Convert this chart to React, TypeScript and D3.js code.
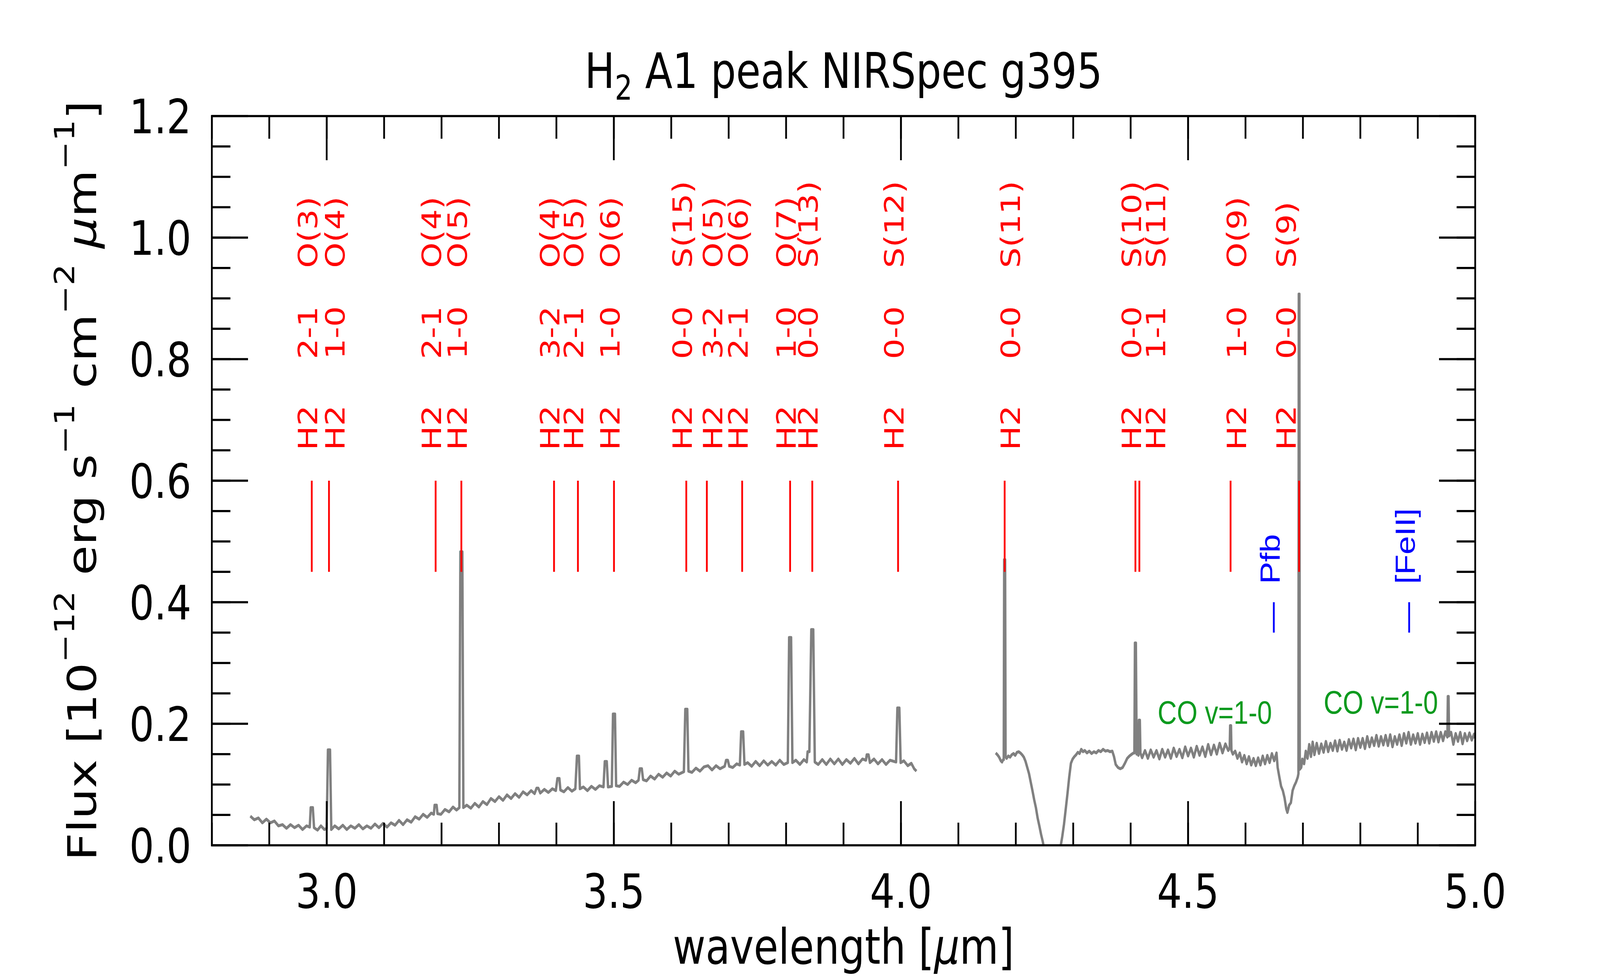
import * as d3 from 'd3'

// spectrum, short-wavelength detector [wavelength um, flux 1e-12 erg/s/cm2/um]
const SPEC_SHORT: [number, number][] = [
  [2.867, 0.048], [2.874, 0.042], [2.881, 0.045], [2.888, 0.037], [2.895, 0.043], [2.902, 0.037],
  [2.909, 0.040], [2.916, 0.032], [2.923, 0.034], [2.930, 0.028], [2.937, 0.034], [2.944, 0.029],
  [2.951, 0.033], [2.958, 0.026], [2.965, 0.032], [2.9705, 0.030], [2.9722, 0.062], [2.9758, 0.062],
  [2.978, 0.029], [2.984, 0.025], [2.990, 0.032], [2.996, 0.026], [3.000, 0.028], [3.0022, 0.157],
  [3.0058, 0.157], [3.008, 0.026], [3.014, 0.032], [3.021, 0.027], [3.028, 0.033], [3.035, 0.026],
  [3.042, 0.032], [3.049, 0.028], [3.056, 0.034], [3.063, 0.027], [3.070, 0.032], [3.077, 0.028],
  [3.084, 0.035], [3.091, 0.029], [3.098, 0.036], [3.105, 0.030], [3.112, 0.037], [3.119, 0.033],
  [3.126, 0.041], [3.133, 0.034], [3.140, 0.042], [3.147, 0.038], [3.154, 0.047], [3.161, 0.043],
  [3.168, 0.051], [3.175, 0.046], [3.182, 0.053], [3.1865, 0.051], [3.1880, 0.066], [3.1914, 0.066],
  [3.193, 0.052], [3.199, 0.051], [3.206, 0.059], [3.213, 0.055], [3.220, 0.063], [3.226, 0.058],
  [3.231, 0.062], [3.2328, 0.483], [3.2362, 0.483], [3.238, 0.062], [3.244, 0.066], [3.251, 0.061],
  [3.258, 0.069], [3.265, 0.063], [3.272, 0.072], [3.279, 0.067], [3.286, 0.077], [3.293, 0.072],
  [3.300, 0.080], [3.307, 0.074], [3.314, 0.083], [3.321, 0.077], [3.328, 0.085], [3.335, 0.079],
  [3.342, 0.088], [3.349, 0.083], [3.356, 0.090], [3.362, 0.085], [3.3655, 0.094], [3.3685, 0.094],
  [3.372, 0.086], [3.379, 0.092], [3.386, 0.087], [3.393, 0.093], [3.399, 0.090], [3.4018, 0.110],
  [3.4052, 0.110], [3.407, 0.091], [3.413, 0.088], [3.420, 0.095], [3.427, 0.089], [3.433, 0.093],
  [3.4358, 0.147], [3.4392, 0.147], [3.441, 0.093], [3.447, 0.096], [3.454, 0.090], [3.461, 0.097],
  [3.468, 0.092], [3.475, 0.098], [3.482, 0.096], [3.4843, 0.138], [3.4877, 0.138], [3.490, 0.096],
  [3.4965, 0.097], [3.4986, 0.216], [3.5020, 0.216], [3.504, 0.098], [3.510, 0.097], [3.517, 0.104],
  [3.524, 0.100], [3.531, 0.107], [3.538, 0.103], [3.543, 0.107], [3.5453, 0.126], [3.5487, 0.126],
  [3.551, 0.108], [3.557, 0.106], [3.564, 0.114], [3.571, 0.109], [3.578, 0.117], [3.585, 0.112],
  [3.592, 0.119], [3.599, 0.114], [3.606, 0.122], [3.613, 0.117], [3.622, 0.121], [3.6245, 0.224],
  [3.6279, 0.224], [3.630, 0.122], [3.636, 0.120], [3.643, 0.127], [3.650, 0.122], [3.657, 0.129],
  [3.664, 0.131], [3.671, 0.124], [3.678, 0.131], [3.685, 0.126], [3.693, 0.130], [3.6955, 0.140],
  [3.6985, 0.140], [3.701, 0.130], [3.707, 0.128], [3.714, 0.134], [3.7195, 0.132], [3.7218, 0.187],
  [3.7252, 0.187], [3.7275, 0.133], [3.733, 0.136], [3.740, 0.130], [3.747, 0.138], [3.754, 0.131],
  [3.761, 0.139], [3.768, 0.132], [3.775, 0.138], [3.782, 0.132], [3.789, 0.140], [3.796, 0.133],
  [3.803, 0.136], [3.8053, 0.342], [3.8087, 0.342], [3.811, 0.136], [3.817, 0.140], [3.824, 0.133],
  [3.831, 0.141], [3.836, 0.137], [3.8375, 0.154], [3.8405, 0.154], [3.8439, 0.355], [3.8473, 0.355],
  [3.850, 0.137], [3.856, 0.133], [3.863, 0.141], [3.870, 0.133], [3.877, 0.142], [3.884, 0.134],
  [3.891, 0.142], [3.898, 0.133], [3.905, 0.141], [3.912, 0.135], [3.919, 0.143], [3.926, 0.134],
  [3.933, 0.142], [3.939, 0.140], [3.9405, 0.149], [3.9435, 0.149], [3.946, 0.136], [3.953, 0.142],
  [3.960, 0.134], [3.967, 0.141], [3.974, 0.133], [3.981, 0.140], [3.9915, 0.137], [3.9938, 0.226],
  [3.9972, 0.226], [3.9995, 0.136], [4.005, 0.139], [4.012, 0.131], [4.018, 0.135], [4.023, 0.126],
  [4.027, 0.122],
]

// spectrum, long-wavelength detector
const SPEC_LONG: [number, number][] = [
  [4.165, 0.152], [4.168, 0.149], [4.171, 0.145], [4.174, 0.139], [4.176, 0.137], [4.178, 0.141],
  [4.1790, 0.141], [4.1798, 0.470], [4.1814, 0.470], [4.1822, 0.146], [4.184, 0.143], [4.187, 0.147],
  [4.190, 0.145], [4.193, 0.149], [4.196, 0.151], [4.199, 0.148], [4.202, 0.153], [4.205, 0.154],
  [4.208, 0.152], [4.211, 0.149], [4.214, 0.145], [4.217, 0.138], [4.220, 0.128], [4.223, 0.118],
  [4.226, 0.104], [4.229, 0.090], [4.232, 0.075], [4.235, 0.062], [4.238, 0.045], [4.241, 0.032],
  [4.244, 0.018], [4.247, 0.006], [4.252, -0.020], [4.262, -0.040], [4.272, -0.020], [4.278, -0.002],
  [4.281, 0.015], [4.284, 0.035], [4.287, 0.060], [4.290, 0.085], [4.293, 0.112], [4.296, 0.135],
  [4.299, 0.142], [4.302, 0.146], [4.305, 0.149], [4.308, 0.153], [4.311, 0.151], [4.314, 0.158],
  [4.317, 0.154], [4.320, 0.156], [4.324, 0.152], [4.328, 0.155], [4.332, 0.151], [4.336, 0.154],
  [4.340, 0.152], [4.344, 0.156], [4.348, 0.154], [4.352, 0.158], [4.356, 0.155], [4.360, 0.156],
  [4.364, 0.154], [4.368, 0.155], [4.371, 0.146], [4.374, 0.133], [4.378, 0.128], [4.382, 0.126],
  [4.386, 0.128], [4.390, 0.135], [4.394, 0.143], [4.398, 0.147], [4.402, 0.150], [4.405, 0.152],
  [4.4065, 0.152], [4.4075, 0.333], [4.4091, 0.333], [4.4105, 0.150], [4.412, 0.152], [4.4135, 0.148],
  [4.4144, 0.206], [4.4160, 0.206], [4.4170, 0.152], [4.420, 0.144], [4.425, 0.156], [4.430, 0.143],
  [4.435, 0.157], [4.440, 0.145], [4.445, 0.156], [4.450, 0.142], [4.455, 0.158], [4.460, 0.145],
  [4.465, 0.157], [4.470, 0.143], [4.475, 0.160], [4.480, 0.146], [4.485, 0.158], [4.490, 0.144],
  [4.495, 0.162], [4.500, 0.147], [4.505, 0.160], [4.510, 0.145], [4.515, 0.163], [4.520, 0.148],
  [4.525, 0.162], [4.530, 0.146], [4.535, 0.166], [4.540, 0.149], [4.545, 0.165], [4.550, 0.150],
  [4.555, 0.168], [4.560, 0.152], [4.565, 0.167], [4.570, 0.156], [4.5725, 0.160], [4.5733, 0.197],
  [4.5747, 0.197], [4.5755, 0.156], [4.578, 0.150], [4.582, 0.155], [4.586, 0.143], [4.590, 0.152],
  [4.594, 0.137], [4.598, 0.148], [4.602, 0.134], [4.606, 0.146], [4.610, 0.132], [4.614, 0.143],
  [4.618, 0.131], [4.622, 0.144], [4.626, 0.132], [4.630, 0.147], [4.634, 0.134], [4.638, 0.148],
  [4.642, 0.136], [4.646, 0.151], [4.650, 0.139], [4.654, 0.152], [4.656, 0.128], [4.659, 0.112],
  [4.662, 0.097], [4.665, 0.090], [4.668, 0.078], [4.671, 0.060], [4.673, 0.054], [4.676, 0.066],
  [4.679, 0.070], [4.682, 0.090], [4.685, 0.098], [4.688, 0.104], [4.691, 0.112], [4.6922, 0.118],
  [4.6928, 0.907], [4.6938, 0.907], [4.6945, 0.125], [4.697, 0.128], [4.699, 0.142], [4.702, 0.134],
  [4.705, 0.155], [4.708, 0.143], [4.711, 0.166], [4.714, 0.146], [4.717, 0.170], [4.720, 0.149],
  [4.724, 0.168], [4.728, 0.151], [4.732, 0.167], [4.736, 0.153], [4.740, 0.171], [4.744, 0.154],
  [4.748, 0.168], [4.752, 0.156], [4.756, 0.172], [4.760, 0.155], [4.764, 0.173], [4.768, 0.158],
  [4.772, 0.170], [4.776, 0.156], [4.780, 0.174], [4.784, 0.160], [4.788, 0.175], [4.792, 0.157],
  [4.796, 0.176], [4.800, 0.161], [4.804, 0.176], [4.808, 0.159], [4.812, 0.179], [4.816, 0.162],
  [4.820, 0.177], [4.824, 0.164], [4.828, 0.181], [4.832, 0.163], [4.836, 0.179], [4.840, 0.165],
  [4.844, 0.181], [4.848, 0.164], [4.852, 0.182], [4.856, 0.162], [4.860, 0.179], [4.864, 0.166],
  [4.868, 0.182], [4.872, 0.164], [4.876, 0.184], [4.880, 0.168], [4.884, 0.186], [4.888, 0.166],
  [4.892, 0.182], [4.896, 0.168], [4.900, 0.184], [4.904, 0.166], [4.908, 0.183], [4.912, 0.169],
  [4.916, 0.185], [4.920, 0.168], [4.924, 0.186], [4.928, 0.171], [4.932, 0.187], [4.936, 0.170],
  [4.940, 0.186], [4.944, 0.172], [4.948, 0.187], [4.9515, 0.178], [4.9524, 0.245], [4.9536, 0.245],
  [4.9545, 0.180], [4.958, 0.186], [4.962, 0.166], [4.966, 0.184], [4.970, 0.171], [4.974, 0.186],
  [4.978, 0.167], [4.982, 0.184], [4.986, 0.172], [4.990, 0.185], [4.994, 0.173], [4.998, 0.183],
  [5.000, 0.176],
]

// H2 lines: marker wavelength, label wavelength (shifted where crowded), band, transition
const H2_LINE_WL = [2.974, 3.004, 3.1897, 3.2345, 3.3959, 3.4375, 3.5003, 3.6262, 3.662, 3.7235, 3.807, 3.8456, 3.995, 4.1806, 4.4083, 4.4152, 4.574, 4.6933]
const H2_LABEL_WL = [2.974, 3.0213, 3.1897, 3.2345, 3.3959, 3.4375, 3.5003, 3.6262, 3.6793, 3.7235, 3.807, 3.8456, 3.995, 4.1979, 4.4083, 4.4509, 4.5918, 4.6777]
const H2_BANDS = ['2-1', '1-0', '2-1', '1-0', '3-2', '2-1', '1-0', '0-0', '3-2', '2-1', '1-0', '0-0', '0-0', '0-0', '0-0', '1-1', '1-0', '0-0']
const H2_TRANS = ['O(3)', 'O(4)', 'O(4)', 'O(5)', 'O(4)', 'O(5)', 'O(6)', 'S(15)', 'O(5)', 'O(6)', 'O(7)', 'S(13)', 'S(12)', 'S(11)', 'S(10)', 'S(11)', 'O(9)', 'S(9)']
const H2_MARK = [0.45, 0.6]
const H2_ROWS = [0.65, 0.8, 0.95]

const ATOMIC_WL = [4.6493, 4.885]
const ATOMIC_NAMES = ['Pfb', '[FeII]']
const ATOMIC_MARK = [0.35, 0.4]
const ATOMIC_LABEL_Y = 0.43

const CO_LABEL_WL = [4.447, 4.736]
const CO_LABEL_FLUX = [0.2, 0.217]
const CO_TEXT = 'CO v=1-0'

const W = 5000
const H = 2500
const DEJAVU = "'DejaVu Sans', 'Liberation Sans', sans-serif"
const ARIAL = "'Liberation Sans', Arial, sans-serif"

export default function App() {
  const x = d3.scaleLinear().domain([2.8, 5.0]).range([662, 4610])
  const y = d3.scaleLinear().domain([0, 1.2]).range([2163, 297])
  const [x0, x1] = x.range()
  const [y0, y1] = y.range()

  const line = d3
    .line<[number, number]>()
    .x(d => x(d[0]))
    .y(d => y(d[1]))
  const sorted = (a: [number, number][]) => [...a].sort((p, q) => p[0] - q[0])

  const fmt = d3.format('.1f')
  const xMajor = x.ticks(5)
  const xMinor = x.ticks(22)
  const yMajor = y.ticks(6)
  const yMinor = y.ticks(24)
  const majLen = 113
  const minLen = 58
  const tickW = 5.5

  // the svg fills the whole window; drawing units stay 5000x2500
  return (
    <div style={{ position: 'absolute', left: 0, top: 0, width: '100vw', height: '100vh', overflow: 'hidden' }}>
      <svg
        viewBox={`0 0 ${W} ${H}`}
        preserveAspectRatio="none"
        style={{ display: 'block', width: '100%', height: '100%', background: '#fff' }}
      >
        <defs>
          <clipPath id="plot-area">
            <rect x={x0} y={y1} width={x1 - x0} height={y0 - y1} />
          </clipPath>
        </defs>
        <rect width={W} height={H} fill="#fff" />

        {/* spectrum */}
        <g clipPath="url(#plot-area)" fill="none" stroke="#808080" strokeWidth={7.5} strokeLinejoin="round">
          <path d={line(sorted(SPEC_SHORT)) ?? ''} />
          <path d={line(sorted(SPEC_LONG)) ?? ''} />
        </g>

        {/* H2 markers and labels */}
        <g stroke="#ff0000" strokeWidth={5.6}>
          {H2_LINE_WL.map((wl, i) => (
            <line key={i} x1={x(wl)} x2={x(wl)} y1={y(H2_MARK[0])} y2={y(H2_MARK[1])} />
          ))}
        </g>
        <g fill="#ff0000" fontFamily={DEJAVU} fontSize={83}>
          {H2_LABEL_WL.map((wl, i) =>
            ['H2', H2_BANDS[i], H2_TRANS[i]].map((t, r) => (
              <text key={`${i}-${r}`} transform={`translate(${x(wl)},${y(H2_ROWS[r])}) rotate(-90)`} dy={17}>
                {t}
              </text>
            ))
          )}
        </g>

        {/* atomic lines */}
        <g stroke="#0000ff" strokeWidth={5.6}>
          {ATOMIC_WL.map((wl, i) => (
            <line key={i} x1={x(wl)} x2={x(wl)} y1={y(ATOMIC_MARK[0])} y2={y(ATOMIC_MARK[1])} />
          ))}
        </g>
        <g fill="#0000ff" fontFamily={ARIAL} fontSize={85}>
          {ATOMIC_WL.map((wl, i) => (
            <text key={i} transform={`translate(${x(wl)},${y(ATOMIC_LABEL_Y)}) rotate(-90)`} dy={18}>
              {ATOMIC_NAMES[i]}
            </text>
          ))}
        </g>

        {/* CO band labels */}
        <g fill="#0c9a1e" fontFamily={ARIAL} fontSize={83}>
          {CO_LABEL_WL.map((wl, i) => (
            <text key={i} x={x(wl)} y={y(CO_LABEL_FLUX[i])}>
              {CO_TEXT}
            </text>
          ))}
        </g>

        {/* ticks, all four sides, pointing in */}
        <g stroke="#000" strokeWidth={tickW}>
          {xMinor.map((v, i) => (
            <g key={`xm${i}`}>
              <line x1={x(v)} x2={x(v)} y1={y0} y2={y0 - minLen} />
              <line x1={x(v)} x2={x(v)} y1={y1} y2={y1 + minLen} />
            </g>
          ))}
          {xMajor.map((v, i) => (
            <g key={`xM${i}`}>
              <line x1={x(v)} x2={x(v)} y1={y0} y2={y0 - majLen} />
              <line x1={x(v)} x2={x(v)} y1={y1} y2={y1 + majLen} />
            </g>
          ))}
          {yMinor.map((v, i) => (
            <g key={`ym${i}`}>
              <line x1={x0} x2={x0 + minLen} y1={y(v)} y2={y(v)} />
              <line x1={x1} x2={x1 - minLen} y1={y(v)} y2={y(v)} />
            </g>
          ))}
          {yMajor.map((v, i) => (
            <g key={`yM${i}`}>
              <line x1={x0} x2={x0 + majLen} y1={y(v)} y2={y(v)} />
              <line x1={x1} x2={x1 - majLen} y1={y(v)} y2={y(v)} />
            </g>
          ))}
        </g>
        <rect x={x0} y={y1} width={x1 - x0} height={y0 - y1} fill="none" stroke="#000" strokeWidth={tickW} />

        {/* tick labels */}
        <g fontFamily={DEJAVU} fontSize={122} fill="#000">
          {xMajor.map((v, i) => (
            <text key={`xl${i}`} x={x(v)} y={2323} textAnchor="middle">
              {fmt(v)}
            </text>
          ))}
          {yMajor.map((v, i) => (
            <text key={`yl${i}`} x={x0 - 64} y={y(v)} dy="0.36em" textAnchor="end">
              {fmt(v)}
            </text>
          ))}
        </g>

        {/* axis labels and title */}
        <g fontFamily={DEJAVU} fontSize={125} fill="#000">
          <text x={(x0 + x1) / 2} y={2466} textAnchor="middle">
            wavelength [<tspan fontStyle="italic">μ</tspan>m]
          </text>
          <text transform={`translate(300,${(y0 + y1) / 2}) rotate(-90)`} textAnchor="middle">
            Flux [10
            <tspan dy={-68} fontSize={87}>−12</tspan>
            <tspan dy={68}> erg s</tspan>
            <tspan dy={-68} fontSize={87}>−1</tspan>
            <tspan dy={68}> cm</tspan>
            <tspan dy={-68} fontSize={87}>−2</tspan>
            <tspan dy={68}> </tspan>
            <tspan fontStyle="italic">μ</tspan>
            <tspan>m</tspan>
            <tspan dy={-68} fontSize={87}>−1</tspan>
            <tspan dy={68}>]</tspan>
          </text>
          <text x={(x0 + x1) / 2} y={225} textAnchor="middle">
            H<tspan dy={30} fontSize={87}>2</tspan>
            <tspan dy={-30}> A1 peak NIRSpec g395</tspan>
          </text>
        </g>
      </svg>
    </div>
  )
}
